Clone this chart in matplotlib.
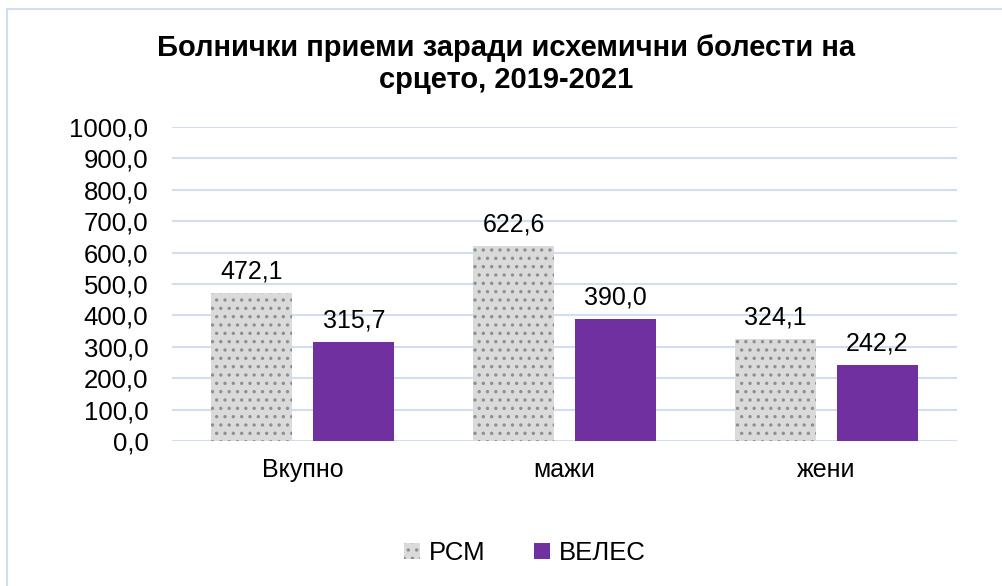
import matplotlib.pyplot as plt
import numpy as np
from matplotlib.patches import Rectangle

plt.rcParams["font.family"] = ["Liberation Sans", "DejaVu Sans"]
plt.rcParams["hatch.linewidth"] = 1.2

categories = ["Вкупно", "мажи", "жени"]
rsm = [472.1, 622.6, 324.1]
veles = [315.7, 390.0, 242.2]
series_names = ["РСМ", "ВЕЛЕС"]
yticks = np.arange(0, 1001, 100)

fig = plt.figure(figsize=(10.03, 5.86), dpi=100)
ax = fig.add_axes([172 / 1003, 1 - 441 / 586, 785 / 1003, 314 / 586])

# outer chart border
fig.patches.append(Rectangle((7 / 1003, -0.1), 1.2, 1 - 9 / 586 + 0.1,
                             transform=fig.transFigure, fill=False,
                             edgecolor="#D0DEF0", linewidth=1.5))

x = np.arange(len(categories))
w = 0.31
off = 0.195
b1 = ax.bar(x - off, rsm, w, color="#DADADA", edgecolor="#8E8E8E",
            hatch="..", linewidth=0, label=series_names[0])
b2 = ax.bar(x + off, veles, w, color="#7030A0", label=series_names[1])

for bars, vals in ((b1, rsm), (b2, veles)):
    for bar, v in zip(bars, vals):
        ax.text(bar.get_x() + bar.get_width() / 2, v + 30,
                f"{v:.1f}".replace(".", ","), ha="center", va="bottom",
                fontsize=18)

ax.set_ylim(0, 1000)
ax.set_xlim(-0.5, 2.5)
ax.set_yticks(yticks)
ax.set_yticklabels([f"{t:.1f}".replace(".", ",") for t in yticks], fontsize=18.5)
ax.set_xticks(x)
ax.set_xticklabels(categories, fontsize=18)
ax.tick_params(length=0)
ax.tick_params(axis="y", pad=17)
ax.tick_params(axis="x", pad=12)
ax.grid(axis="y", color="#D0DEF0", linewidth=1.5)
ax.set_axisbelow(True)
for s in ax.spines.values():
    s.set_visible(False)

fig.text(506 / 1003, 1 - 64 / 586,
         "Болнички приеми заради исхемични болести на\nсрцето, 2019-2021",
         ha="center", va="center", fontsize=21, fontweight="bold",
         linespacing=1.2)

ax.legend(loc="center", bbox_to_anchor=(525 / 1003, 1 - 553 / 586),
          bbox_transform=fig.transFigure, ncol=2, frameon=False, fontsize=18.5,
          handlelength=0.6, handleheight=0.6, columnspacing=1.9,
          handletextpad=0.35)

fig.savefig("out.png", dpi=100)
